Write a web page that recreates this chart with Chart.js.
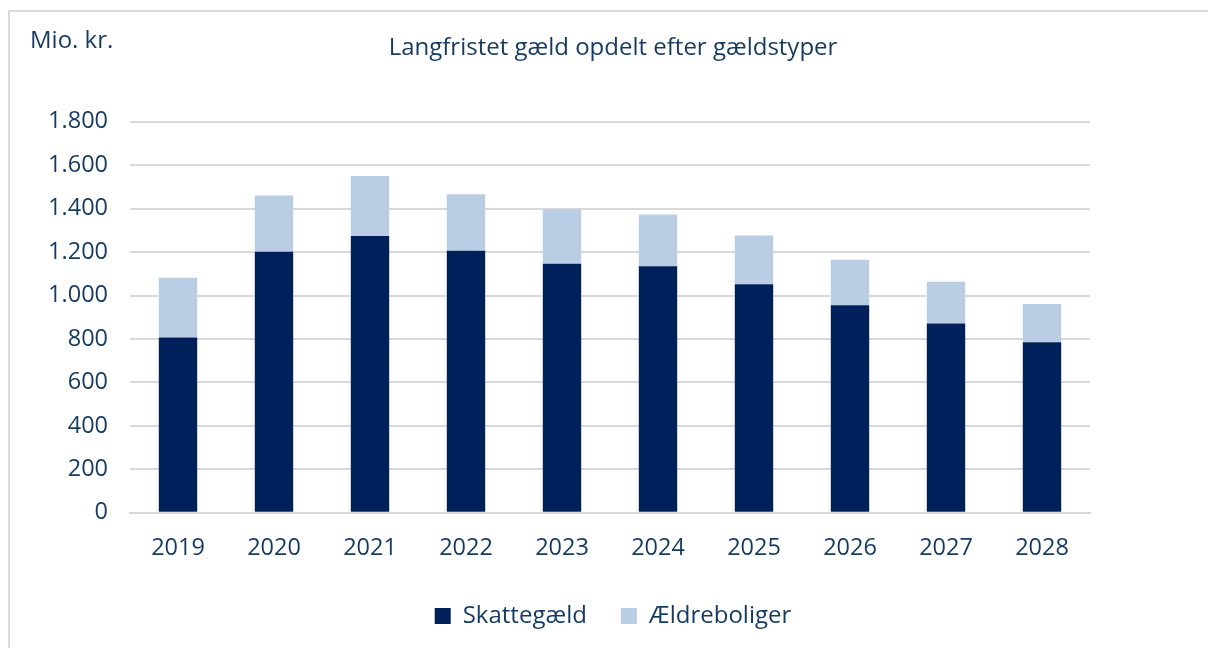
<!DOCTYPE html>
<html>
<head>
<meta charset="utf-8">
<script src="https://cdn.jsdelivr.net/npm/chart.js@4/dist/chart.umd.min.js"></script>
<style>
  html, body { margin: 0; padding: 0; background: #fff; }
  body { width: 1208px; height: 648px; position: relative; overflow: hidden; font-family: "Open Sans", sans-serif; }
  #frame { position: absolute; left: 8px; top: 10px; width: 1300px; height: 700px; border: 2px solid #dcdcdc; box-sizing: border-box; }
  #unit { position: absolute; left: 30px; top: 23px; font-size: 24px; line-height: 32px; color: #163A5F; font-family: "Open Sans", sans-serif; }
  #wrap { position: absolute; left: 0; top: 0; width: 1208px; height: 648px; }
</style>
</head>
<body>
<div id="frame"></div>
<div id="wrap"><canvas id="c" width="1208" height="648"></canvas></div>
<div id="unit">Mio. kr.</div>
<script>
const categories = ["2019", "2020", "2021", "2022", "2023", "2024", "2025", "2026", "2027", "2028"];
const skattegaeld = [807, 1202, 1274, 1206, 1146, 1135, 1052, 955, 871, 785];
const aeldreboliger = [275, 259, 276, 261, 250, 238, 225, 210, 193, 176];
const seriesNames = ["Skattegæld", "Ældreboliger"];
const titleText = "Langfristet gæld opdelt efter gældstyper";

const textColor = "#163A5F";
const fontFamily = "'Open Sans', sans-serif";

new Chart(document.getElementById("c"), {
  type: "bar",
  data: {
    labels: categories,
    datasets: [
      { label: seriesNames[0], data: skattegaeld, backgroundColor: "#00205B", borderWidth: 0, barPercentage: 0.4, categoryPercentage: 1.0 },
      { label: seriesNames[1], data: aeldreboliger, backgroundColor: "#B9CDE5", borderWidth: 0, barPercentage: 0.4, categoryPercentage: 1.0 }
    ]
  },
  options: {
    responsive: false,
    animation: false,
    devicePixelRatio: 1,
    layout: { padding: { left: 18, right: 0, top: 34, bottom: 10 } },
    plugins: {
      title: {
        display: true,
        text: titleText,
        color: textColor,
        font: { family: fontFamily, size: 24, weight: "normal" },
        padding: { top: 0, bottom: 59 }
      },
      legend: {
        position: "bottom",
        labels: {
          color: textColor,
          font: { family: fontFamily, size: 24 },
          boxWidth: 16,
          boxHeight: 16,
          padding: 34
        }
      },
      tooltip: { enabled: false }
    },
    scales: {
      x: {
        stacked: true,
        grid: { display: false, drawTicks: false },
        border: { display: true, color: "#d9d9d9", width: 2 },
        afterFit: function(scale) { scale.height = scale.height - 13; },
        ticks: { color: textColor, font: { family: fontFamily, size: 23.5 }, padding: 21, maxRotation: 0 }
      },
      y: {
        stacked: true,
        min: 0,
        max: 1800,
        afterFit: function(scale) { scale.width = 112; },
        grid: { color: "#d9d9d9", lineWidth: 2, drawTicks: false },
        border: { display: false },
        ticks: {
          stepSize: 200,
          color: textColor,
          font: { family: fontFamily, size: 23.5 },
          padding: 22,
          callback: function(v) { return v.toLocaleString("da-DK"); }
        }
      },
      yRight: {
        position: "right",
        display: true,
        min: 0,
        max: 1800,
        afterFit: function(scale) { scale.width = 118; },
        grid: { display: false, drawTicks: false },
        border: { display: false },
        ticks: { display: false }
      }
    }
  }
});
</script>
</body>
</html>
